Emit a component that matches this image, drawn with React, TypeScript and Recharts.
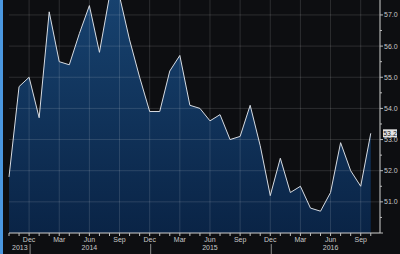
import React from 'react';
import { AreaChart, Area, XAxis, YAxis, ReferenceLine, ReferenceDot } from 'recharts';

// monthly index, Oct 2013 .. Oct 2016
const months = [
  'Oct', 'Nov', 'Dec', 'Jan', 'Feb', 'Mar', 'Apr', 'May', 'Jun', 'Jul', 'Aug', 'Sep',
  'Oct', 'Nov', 'Dec', 'Jan', 'Feb', 'Mar', 'Apr', 'May', 'Jun', 'Jul', 'Aug', 'Sep',
  'Oct', 'Nov', 'Dec', 'Jan', 'Feb', 'Mar', 'Apr', 'May', 'Jun', 'Jul', 'Aug', 'Sep',
  'Oct',
];
const values = [
  51.8, 54.7, 55.0, 53.7, 57.1, 55.5, 55.4, 56.4, 57.3, 55.8, 57.6, 57.6,
  56.2, 55.0, 53.9, 53.9, 55.2, 55.7, 54.1, 54.0, 53.6, 53.8, 53.0, 53.1,
  54.1, 52.8, 51.2, 52.4, 51.3, 51.5, 50.8, 50.7, 51.3, 52.9, 52.0, 51.5,
  53.2,
];
const shownMonths = ['Dec', 'Mar', 'Jun', 'Sep'];
const yearLabels = [
  { i: 0, text: '2013', anchor: 'start' },
  { i: 8, text: '2014', anchor: 'middle' },
  { i: 20, text: '2015', anchor: 'middle' },
  { i: 32, text: '2016', anchor: 'middle' },
];
const yearSeparators = [2, 14, 26];
const yTicks = [50, 50.5, 51, 51.5, 52, 52.5, 53, 53.5, 54, 54.5, 55, 55.5, 56, 56.5, 57];
const gridValues = [51, 52, 53, 54, 55, 56, 57];

const data = values.map((v, i) => ({ i, v }));
const monthTicks = months.map((_, i) => i);
const gridMonths = monthTicks.filter((i) => shownMonths.includes(months[i]));
const last = data[data.length - 1];

const FONT = 'Arial, "Liberation Sans", sans-serif';
const TEXT = '#c9c9c9';
const GRID = 'rgba(255,255,255,0.13)';

const MonthTick = (props: any) => {
  const { x, y, payload } = props;
  const i = payload.value;
  const m = months[i];
  const year = yearLabels.find((yl) => yl.i === i);
  return (
    <g>
      <line x1={x} y1={y} x2={x} y2={y + 3} stroke="#bdbdbd" strokeWidth={1} />
      {shownMonths.includes(m) && (
        <text x={x} y={y + 9} textAnchor="middle" fill={TEXT} fontSize={7} fontFamily={FONT}>
          {m}
        </text>
      )}
      {year && (
        <text
          x={year.anchor === 'start' ? x + 3 : x}
          y={y + 17}
          textAnchor={year.anchor}
          fill={TEXT}
          fontSize={7}
          fontFamily={FONT}
        >
          {year.text}
        </text>
      )}
      {yearSeparators.includes(i) && (
        <line x1={x + 1} y1={y + 11} x2={x + 1} y2={y + 21} stroke="#8a8a8a" strokeWidth={1} />
      )}
    </g>
  );
};

const ValueTick = (props: any) => {
  const { x, y, payload } = props;
  const v = payload.value;
  const major = Number.isInteger(v);
  return (
    <g>
      <line x1={x} y1={y} x2={x + (major ? 3 : 2)} y2={y} stroke="#bdbdbd" strokeWidth={1} />
      {major && v > 50 && (
        <text x={x + 4} y={y + 2.5} textAnchor="start" fill={TEXT} fontSize={7} fontFamily={FONT}>
          {v.toFixed(1)}
        </text>
      )}
    </g>
  );
};

const LastValue = (props: any) => {
  const { cy } = props;
  const bx = 383;
  return (
    <g>
      <rect x={bx} y={cy - 4} width={14} height={8} fill="#e4e4e4" />
      <text x={bx + 7} y={cy + 2.5} textAnchor="middle" fill="#1a1a1a" fontSize={7} fontFamily={FONT}>
        {last.v.toFixed(1)}
      </text>
    </g>
  );
};

export default function App() {
  return (
    <div
      style={{
        position: 'fixed',
        left: 0,
        top: 0,
        width: 400,
        height: 254,
        background: '#0d0e11',
        overflow: 'hidden',
      }}
    >
      <div style={{ position: 'absolute', left: 0, top: 0, width: 3, height: 254, background: '#4a97e0' }} />
      <AreaChart width={400} height={254} data={data} margin={{ top: 0, right: 0, left: 9, bottom: 0 }}>
        <defs>
          <linearGradient id="fillBlue" x1="0" y1="0" x2="0" y2="1">
            <stop offset="0%" stopColor="#17426f" />
            <stop offset="100%" stopColor="#0a2446" />
          </linearGradient>
        </defs>
        <XAxis
          dataKey="i"
          type="number"
          domain={[0, 36.92]}
          ticks={monthTicks}
          interval={0}
          height={21}
          tickSize={0}
          tickMargin={0}
          tick={<MonthTick />}
          axisLine={{ stroke: '#cfcfcf' }}
          tickLine={false}
        />
        <YAxis
          orientation="right"
          type="number"
          domain={[50, 57.48]}
          allowDataOverflow
          ticks={yTicks}
          interval={0}
          width={20}
          tickSize={0}
          tickMargin={0}
          tick={<ValueTick />}
          axisLine={{ stroke: '#cfcfcf' }}
          tickLine={false}
        />
        <Area
          type="linear"
          dataKey="v"
          stroke="#d6dbe2"
          strokeWidth={1}
          fill="url(#fillBlue)"
          fillOpacity={1}
          isAnimationActive={false}
          dot={false}
          activeDot={false}
        />
        {gridValues.map((g) => (
          <ReferenceLine key={'h' + g} y={g} stroke={GRID} strokeWidth={1} />
        ))}
        {gridMonths.map((m) => (
          <ReferenceLine key={'v' + m} x={m} stroke={GRID} strokeWidth={1} />
        ))}
        <ReferenceDot x={last.i} y={last.v} r={0} shape={<LastValue />} />
      </AreaChart>
    </div>
  );
}
